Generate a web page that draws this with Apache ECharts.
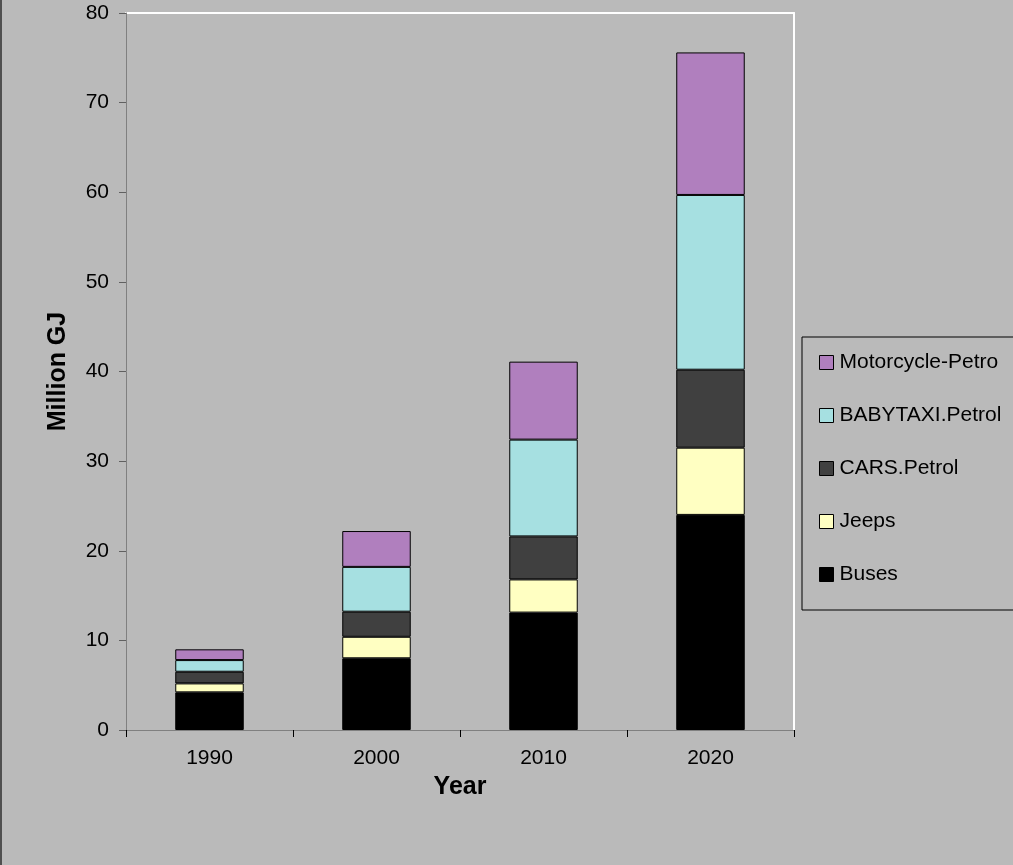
<!DOCTYPE html>
<html>
<head>
<meta charset="utf-8">
<script src="https://cdn.jsdelivr.net/npm/echarts@6/dist/echarts.min.js"></script>
<style>
html,body{margin:0;padding:0;background:#bababa;}
#chart{width:1013px;height:865px;}
</style>
</head>
<body>
<div id="chart"></div>
<script>
const categories = ['1990', '2000', '2010', '2020'];
const buses = [4.2, 8.0, 13.1, 24.0];
const jeeps = [1.0, 2.4, 3.7, 7.5];
const cars = [1.3, 2.8, 4.8, 8.7];
const babyTaxi = [1.3, 5.0, 10.8, 19.5];
const motorcycle = [1.2, 4.0, 8.7, 15.9];
const yTicks = [0, 10, 20, 30, 40, 50, 60, 70, 80];

const seriesDefs = [
  {name: 'Buses', data: buses, color: '#000000'},
  {name: 'Jeeps', data: jeeps, color: '#ffffc2'},
  {name: 'CARS.Petrol', data: cars, color: '#404040'},
  {name: 'BABYTAXI.Petrol', data: babyTaxi, color: '#a6e0e1'},
  {name: 'Motorcycle-Petro', data: motorcycle, color: '#b07fbe'}
];

const font = 'Arial, "Liberation Sans", sans-serif';
const chart = echarts.init(document.getElementById('chart'));
chart.setOption({
  backgroundColor: '#bababa',
  animation: false,
  textStyle: {fontFamily: font},
  graphic: [{
    type: 'line', shape: {x1: 1, y1: 0, x2: 1, y2: 865},
    style: {stroke: '#505050', lineWidth: 2}, silent: true
  }],
  grid: {left: 126, right: 219, top: 13, bottom: 135, show: false},
  legend: {
    orient: 'vertical',
    left: 802, top: 337,
    data: ['Motorcycle-Petro', 'BABYTAXI.Petrol', 'CARS.Petrol', 'Jeeps', 'Buses'],
    icon: 'rect',
    itemWidth: 14, itemHeight: 14,
    itemGap: 32,
    padding: [15, 60, 25, 17],
    borderColor: '#000', borderWidth: 1,
    backgroundColor: 'transparent',
    textStyle: {fontSize: 21, color: '#000', fontFamily: font, lineHeight: 21, padding: [0, 0, 0, 1]},
    itemStyle: {borderColor: '#000', borderWidth: 1}
  },
  xAxis: [{
    type: 'category',
    data: categories,
    name: 'Year',
    nameLocation: 'middle',
    nameGap: 45,
    nameTextStyle: {fontSize: 25, fontWeight: 'bold', color: '#000', fontFamily: font},
    axisLine: {onZero: false, lineStyle: {color: '#808080', width: 1}},
    axisTick: {show: true, inside: false, length: 7, lineStyle: {color: '#000'}},
    axisLabel: {fontSize: 21, color: '#000', margin: 18, fontFamily: font},
    splitLine: {show: false},
    z: 5
  }, {
    type: 'category',
    data: categories,
    position: 'top',
    axisLine: {show: true, onZero: false, lineStyle: {color: '#ffffff', width: 2}},
    axisTick: {show: false},
    axisLabel: {show: false},
    splitLine: {show: false},
    z: 1
  }],
  yAxis: [{
    type: 'value',
    min: 0, max: 80, interval: 10,
    name: 'Million GJ',
    nameLocation: 'middle',
    nameGap: 55,
    nameRotate: 90,
    nameTextStyle: {fontSize: 25, fontWeight: 'bold', color: '#000', fontFamily: font},
    axisLine: {show: true, onZero: false, lineStyle: {color: '#808080', width: 1}},
    axisTick: {show: true, length: 7, lineStyle: {color: '#606060'}},
    axisLabel: {fontSize: 21, color: '#000', margin: 17, fontFamily: font,
      formatter: v => yTicks.includes(v) ? String(v) : ''},
    splitLine: {show: false},
    z: 5
  }, {
    type: 'value',
    min: 0, max: 80, interval: 10,
    position: 'right',
    axisLine: {show: true, onZero: false, lineStyle: {color: '#ffffff', width: 2}},
    axisTick: {show: false},
    axisLabel: {show: false},
    splitLine: {show: false},
    z: 1
  }],
  series: seriesDefs.map(s => ({
    name: s.name,
    type: 'bar',
    stack: 'total',
    data: s.data,
    barWidth: '41%',
    itemStyle: {color: s.color, borderColor: '#000', borderWidth: 1}
  }))
});
</script>
</body>
</html>
